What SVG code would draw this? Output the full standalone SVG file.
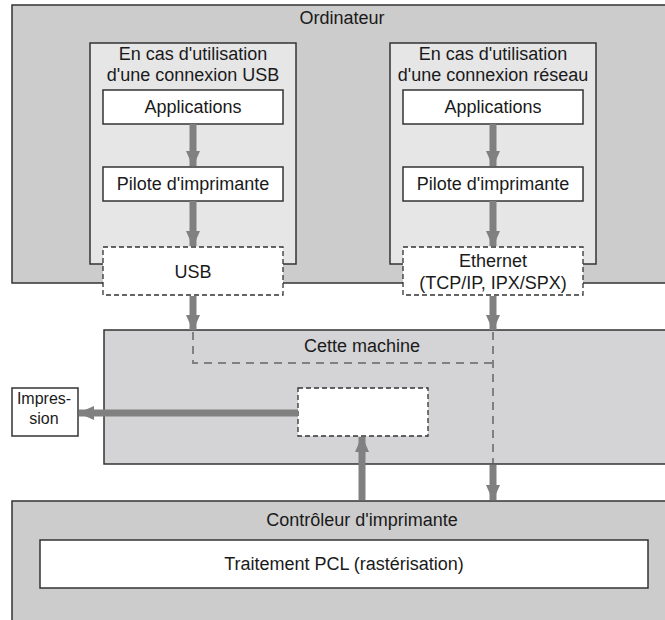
<svg xmlns="http://www.w3.org/2000/svg" width="665" height="620" viewBox="0 0 665 620">
<defs>
<style>
.t{font-family:"Liberation Sans",Arial,Helvetica,sans-serif;font-size:18px;fill:#1a1a1a;text-anchor:middle}
.s{font-size:16px}
.outer{fill:#cccccc;stroke:#333;stroke-width:1.5}
.mach{fill:#d4d4d6;stroke:#333;stroke-width:1.5}
.sub{fill:#e6e6e6;stroke:#333;stroke-width:1.5}
.box{fill:#fff;stroke:#333;stroke-width:1.5}
.dbox{fill:#fff;stroke:#333;stroke-width:1.3;stroke-dasharray:5,3}
.arr{stroke:#808080;stroke-width:7;fill:none}
.dl{stroke:#808080;stroke-width:2;fill:none;stroke-dasharray:8,6}
</style>
<marker id="ah" viewBox="0 0 16 14" refX="15" refY="7" markerWidth="16" markerHeight="14" markerUnits="userSpaceOnUse" orient="auto">
<path d="M0,0 L16,7 L0,14 z" fill="#808080"/>
</marker>
</defs>

<g id="ordinateur">
<rect class="outer" x="12" y="5" width="662" height="278"/>
<text class="t" x="342" y="24">Ordinateur</text>
</g>

<g id="usb-group">
<rect class="sub" x="90" y="43" width="206" height="221"/>
<text class="t" x="193" y="60">En cas d'utilisation</text>
<text class="t" x="193" y="81">d'une connexion USB</text>
</g>
<g id="reseau-group">
<rect class="sub" x="390" y="43" width="206" height="221"/>
<text class="t" x="493" y="60">En cas d'utilisation</text>
<text class="t" x="493" y="81">d'une connexion réseau</text>
</g>

<g id="app-usb">
<rect class="box" x="103" y="90" width="180" height="34"/>
<text class="t" x="193" y="113">Applications</text>
</g>
<g id="pilote-usb">
<rect class="box" x="103" y="167" width="180" height="34"/>
<text class="t" x="193" y="190">Pilote d'imprimante</text>
</g>
<g id="usb">
<rect class="dbox" x="103" y="247" width="180" height="48"/>
<text class="t" x="193" y="278">USB</text>
</g>

<g id="app-net">
<rect class="box" x="403" y="90" width="180" height="34"/>
<text class="t" x="493" y="113">Applications</text>
</g>
<g id="pilote-net">
<rect class="box" x="403" y="167" width="180" height="34"/>
<text class="t" x="493" y="190">Pilote d'imprimante</text>
</g>
<g id="ethernet">
<rect class="dbox" x="403" y="247" width="180" height="48"/>
<text class="t" x="493" y="267">Ethernet</text>
<text class="t" x="493" y="289">(TCP/IP, IPX/SPX)</text>
</g>

<g id="machine">
<rect class="mach" x="104" y="330" width="570" height="134"/>
<text class="t" x="362" y="352">Cette machine</text>
</g>
<g id="centre">
<rect class="dbox" x="298" y="388" width="130" height="48"/>
</g>
<g id="impression">
<rect class="box" x="12" y="388" width="66" height="48"/>
<text class="t s" x="44" y="404">Impres-</text>
<text class="t s" x="44" y="424">sion</text>
</g>

<g id="controleur">
<rect class="outer" x="12" y="501" width="662" height="130"/>
<text class="t" x="362" y="526">Contrôleur d'imprimante</text>
</g>
<g id="traitement">
<rect class="box" x="40" y="540" width="608" height="48"/>
<text class="t" x="344" y="570">Traitement PCL (rastérisation)</text>
</g>

<g id="connectors">
<path class="arr" d="M193 124 V166" marker-end="url(#ah)"/>
<path class="arr" d="M193 201 V246" marker-end="url(#ah)"/>
<path class="arr" d="M493 124 V166" marker-end="url(#ah)"/>
<path class="arr" d="M493 201 V246" marker-end="url(#ah)"/>
<path class="arr" d="M193 296 V330" marker-end="url(#ah)"/>
<path class="arr" d="M493 296 V330" marker-end="url(#ah)"/>
<path class="dl" d="M193 332 V363 H493"/>
<path class="dl" d="M493 332 V463"/>
<path class="arr" d="M493 465 V500" marker-end="url(#ah)"/>
<path class="arr" d="M362 500 V437" marker-end="url(#ah)"/>
<path class="arr" d="M298 413 H79" marker-end="url(#ah)"/>
</g>
</svg>
